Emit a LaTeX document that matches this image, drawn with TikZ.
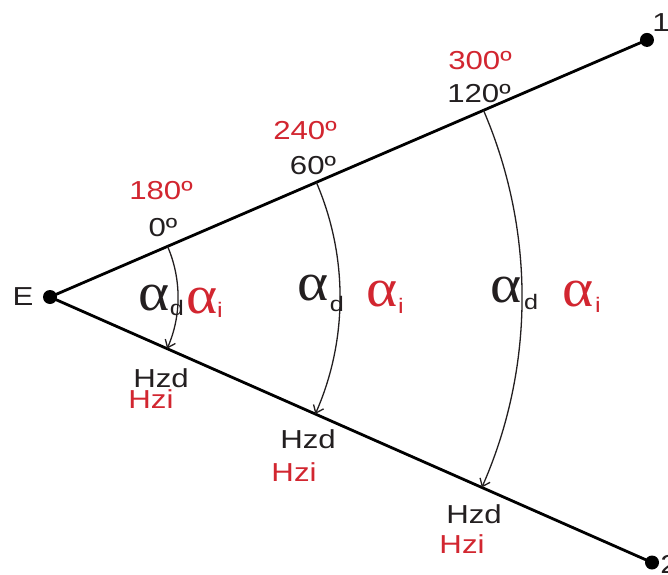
\documentclass[tikz,border=0pt]{standalone}
\usepackage{fontspec}
\setmainfont{Liberation Sans}[FakeStretch=1.2]
\newfontfamily\alphafont{Liberation Serif}[FakeStretch=1.1]
\usetikzlibrary{arrows.meta,calc}
\definecolor{txtred}{RGB}{210,38,48}
\definecolor{txtblk}{RGB}{35,31,32}
\begin{document}
\begin{tikzpicture}[x=1pt,y=1pt,
 lbl/.style={inner sep=0pt, text=txtblk, font=\fontsize{26}{26}\selectfont},
 rlbl/.style={lbl, text=txtred},
 alph/.style={inner sep=0pt, text=txtblk, font=\alphafont\fontsize{54}{54}\selectfont},
 ralph/.style={alph, text=txtred},
 sub/.style={inner sep=0pt, text=txtblk, font=\fontsize{21}{21}\selectfont},
 rsub/.style={sub, text=txtred},
 mainline/.style={line width=2.8pt, draw=black},
 anglearc/.style={line width=1.3pt, draw=txtblk, -{Straight Barb[length=7pt,width=11pt]}},
 dot/.style={circle, fill=black, inner sep=0pt, minimum size=14pt}]
\useasboundingbox (0,0) rectangle (668,574);
\fill[white] (0,0) rectangle (668,574);
% points
\node[dot] (E) at (50,277) {};
\node[dot] (P1) at ($(E)+(23.3:650)$) {};
\node[dot] (P2) at ($(E)+(-23.8:658)$) {};
\draw[mainline] (E.center) -- (P1.center);
\draw[mainline] (E.center) -- (P2.center);
% arcs
\foreach \r in {128,290,472}
  \draw[anglearc] ($(E)+(23.3:\r)$) arc[start angle=23.3, end angle=-23.8, radius=\r];
% point labels
\node[lbl] (lE) at (23,277) {E};
\node[lbl] (l1) at (661,551) {1};
\node[lbl] (l2) at (669,10) {2};
% upper labels
\node[rlbl] (r180) at (161,383) {180º};
\node[lbl] (b0) at (163,346) {0º};
\node[rlbl] (r240) at (305,443) {240º};
\node[lbl] (b60) at (313,408) {60º};
\node[rlbl] (r300) at (480,513) {300º};
\node[lbl] (b120) at (479,480) {120º};
% lower labels
\node[lbl] (hd1) at (161,196) {Hzd};
\node[rlbl] (hi1) at (151,175) {Hzi};
\node[lbl] (hd2) at (308,135) {Hzd};
\node[rlbl] (hi2) at (294,102) {Hzi};
\node[lbl] (hd3) at (474,60) {Hzd};
\node[rlbl] (hi3) at (462,30) {Hzi};
% alphas
\node[alph] (ad1) at (154,276) {α};
\node[sub] (sd1) at (177,266) {d};
\node[ralph] (ai1) at (202,273) {α};
\node[rsub] (si1) at (220,264) {i};
\node[alph] (ad2) at (313,286) {α};
\node[sub] (sd2) at (337,270) {d};
\node[ralph] (ai2) at (382,280) {α};
\node[rsub] (si2) at (401,268) {i};
\node[alph] (ad3) at (506,284) {α};
\node[sub] (sd3) at (531,272) {d};
\node[ralph] (ai3) at (578,280) {α};
\node[rsub] (si3) at (598,269) {i};
\end{tikzpicture}
\end{document}
